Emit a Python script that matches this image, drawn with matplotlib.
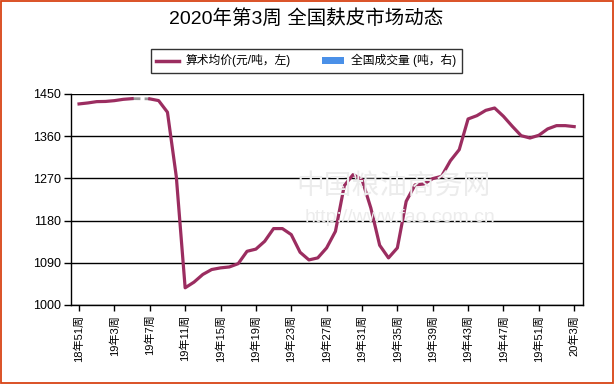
import numpy as np
import matplotlib
matplotlib.use("Agg")
import matplotlib.pyplot as plt
from matplotlib.patches import Rectangle, Patch
from matplotlib.lines import Line2D

plt.rcParams['font.family'] = ['Liberation Sans', 'Noto Sans CJK SC', 'DejaVu Sans']

# weeks: 18-51, 18-52, 19-1 ... 19-52, 20-1 ... 20-3
weeks = [(18, 51), (18, 52)] + [(19, w) for w in range(1, 53)] + [(20, w) for w in range(1, 4)]
week_labels = [f"{y}年{w}周" for y, w in weeks]

price = [1428.7, 1430.8, 1433.6, 1434.0, 1435.7, 1438.5, 1440.0, np.nan, 1439.5, 1435.8,
         1411.0, 1273.7, 1036.5, 1048.6, 1065.0, 1075.5, 1079.0, 1081.0, 1088.0, 1114.4,
         1119.0, 1135.8, 1162.8, 1162.8, 1150.0, 1112.3, 1096.0, 1100.3, 1121.6, 1157.0,
         1254.5, 1278.0, 1267.3, 1206.9, 1127.3, 1100.3, 1121.6, 1221.0, 1256.0, 1258.0,
         1269.4, 1274.3, 1307.5, 1331.2, 1396.6, 1403.7, 1415.0, 1420.0, 1402.3, 1381.0,
         1361.0, 1356.0, 1361.8, 1375.4, 1382.4, 1382.4, 1380.3]

yticks = [1000, 1090, 1180, 1270, 1360, 1450]
title = "2020年第3周 全国麸皮市场动态"
legend_labels = ["算术均价(元/吨，左)", "全国成交量 (吨，右)"]

line_color = "#9b2d60"
bar_color = "#4a90e8"

fig = plt.figure(figsize=(6.15, 3.85), dpi=100)
ax = fig.add_axes([0.115, 0.208, 0.833, 0.548])

x = np.arange(len(price))
p = np.array(price, dtype=float)

# dashed grey bridge over missing values
valid = ~np.isnan(p)
for i in np.where(~valid)[0]:
    lo = i - 1
    hi = i + 1
    while hi < len(p) and np.isnan(p[hi]):
        hi += 1
    ax.plot([x[lo], x[hi]], [p[lo], p[hi]], color="#999999", lw=2.0,
            ls=(0, (3, 1.5)), zorder=2)

ax.plot(x, p, color=line_color, lw=2.3, zorder=3, solid_joinstyle='round')

ax.set_ylim(1000, 1450)
ax.set_yticks(yticks)
ax.set_xlim(-0.94, 57.0)
tick_idx = np.arange(0, len(price), 4)
ax.set_xticks(tick_idx)
ax.set_xticklabels([week_labels[i] for i in tick_idx], rotation=90, fontsize=8)
ax.tick_params(axis='y', labelsize=9, length=5, width=1, pad=2)
ax.tick_params(axis='x', length=4, width=1, pad=3)

ax.grid(axis='y', color='black', lw=1)
ax.set_axisbelow(True)
ax.spines['top'].set_visible(False)
for s in ['left', 'right', 'bottom']:
    ax.spines[s].set_linewidth(1)

# watermark (faint)
fig.text(0.64, 0.515, "中国粮油商务网", fontsize=20, color="#ececec", ha='center', va='center',
         zorder=0, family=['Noto Sans CJK SC'])
fig.text(0.65, 0.435, "http://www.fao.com.cn", fontsize=14, color="#ececec", ha='center', va='center',
         zorder=0)

fig.text(0.497, 0.951, title, fontsize=14, ha='center', va='center')

handles = [Line2D([0], [0], color=line_color, lw=2.5),
           Patch(facecolor=bar_color, edgecolor='none')]
leg = fig.legend(handles, legend_labels, loc='center', bbox_to_anchor=(0.4985, 0.842),
                 ncol=2, fontsize=8.5, frameon=True, fancybox=False, edgecolor='black',
                 handlelength=1.9, handleheight=0.6, columnspacing=2.6, borderpad=0.45,
                 handletextpad=0.6)
leg.get_frame().set_linewidth(1)

fig.patches.append(Rectangle((0.001, 0.004), 0.996, 0.994, transform=fig.transFigure,
                             fill=False, edgecolor="#d84315", lw=1.3))

fig.savefig("out.png", dpi=100)
